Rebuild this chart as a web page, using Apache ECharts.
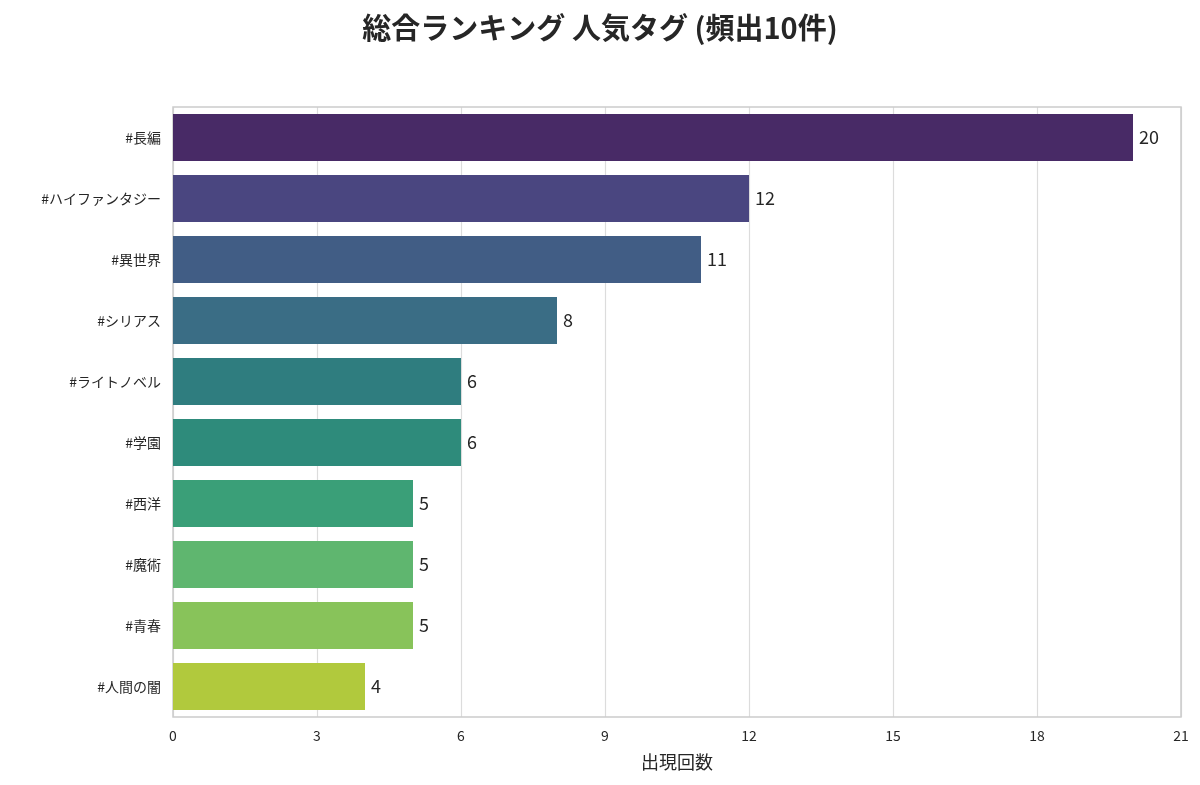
<!DOCTYPE html>
<html>
<head>
<meta charset="utf-8">
<script src="https://cdn.jsdelivr.net/npm/echarts@6/dist/echarts.min.js"></script>
<style>html,body{margin:0;padding:0;background:#fff}#main{width:1200px;height:785px}</style>
</head>
<body>
<div id="main"></div>
<script>
var tags = ['#長編', '#ハイファンタジー', '#異世界', '#シリアス', '#ライトノベル', '#学園', '#西洋', '#魔術', '#青春', '#人間の闇'];
var counts = [20, 12, 11, 8, 6, 6, 5, 5, 5, 4];
var colors = ['#482a66', '#4a4680', '#415d85', '#3a6d85', '#2f7d7f', '#2e8b7b', '#3a9f78', '#5fb66f', '#88c35a', '#b1c93d'];
var xTicks = [0, 3, 6, 9, 12, 15, 18, 21];

var chart = echarts.init(document.getElementById('main'));
var font = '"Noto Sans CJK JP", "Noto Sans", sans-serif';
chart.setOption({
  textStyle: { fontFamily: font },
  title: {
    text: '総合ランキング 人気タグ (頻出10件)', left: 'center', top: 8,
    textStyle: { fontSize: 29, fontWeight: 'bold', color: '#262626', fontFamily: font }
  },
  grid: { left: 173, right: 19, top: 107, bottom: 68 },
  xAxis: {
    type: 'value', min: xTicks[0], max: xTicks[xTicks.length - 1], interval: 3,
    name: '出現回数', nameLocation: 'middle', nameGap: 36,
    nameTextStyle: { fontSize: 18, color: '#262626' },
    axisLine: { show: false }, axisTick: { show: false },
    axisLabel: { fontSize: 14, color: '#262626', margin: 12 },
    splitLine: { lineStyle: { color: '#dcdcdc', width: 1.2 } }
  },
  yAxis: {
    type: 'category', data: tags, inverse: true,
    axisLine: { show: false }, axisTick: { show: false },
    axisLabel: { fontSize: 14, color: '#262626', margin: 12 }
  },
  series: [{
    type: 'bar', barWidth: '77%',
    data: counts.map(function (v, i) { return { value: v, itemStyle: { color: colors[i] } }; }),
    label: { show: true, position: 'right', fontSize: 18, color: '#262626', distance: 6 },
    markArea: { silent: true, itemStyle: { color: 'rgba(0,0,0,0)', borderColor: '#cccccc', borderWidth: 1.5 },
      data: [[{ x: 173, y: 107 }, { x: 1181, y: 717 }]] }
  }]
});
</script>
</body>
</html>
